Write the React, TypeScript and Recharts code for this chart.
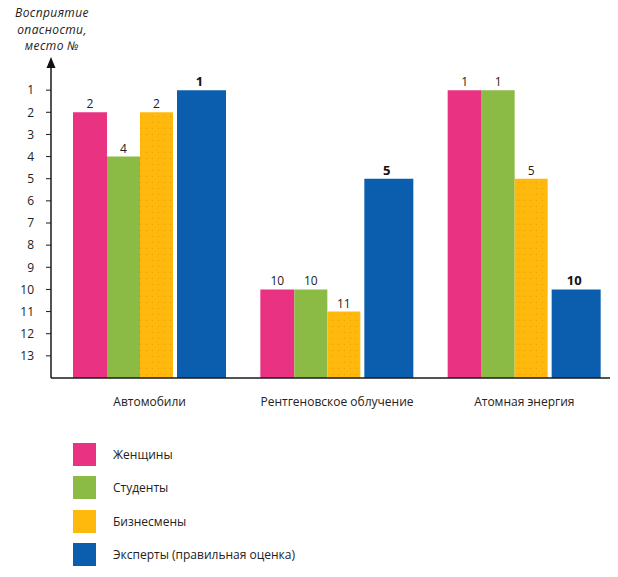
import { BarChart, Bar, XAxis, YAxis, LabelList, Legend, Rectangle } from 'recharts';

const MAX_RANK = 14;
const categories = ['Автомобили', 'Рентгеновское облучение', 'Атомная энергия'];
const women = [2, 10, 1];
const students = [4, 10, 1];
const businessmen = [2, 11, 5];
const experts = [1, 5, 10];
const rankTicks = [1, 2, 3, 4, 5, 6, 7, 8, 9, 10, 11, 12, 13];
const seriesNames = ['Женщины', 'Студенты', 'Бизнесмены', 'Эксперты (правильная оценка)'];
const colors = ['#E93281', '#8CBB45', '#FFB90C', '#0B5EAD'];

const data = categories.map((category, i) => ({
  category,
  women: women[i],
  students: students[i],
  businessmen: businessmen[i],
  experts: experts[i],
}));

const FONT = '"Open Sans", "Noto Sans", sans-serif';
const toBar = (rank: number) => MAX_RANK - rank;
const toRank = (v: any) => MAX_RANK - Number(v);

const renderLegend = () => (
  <div style={{ height: 139, fontFamily: FONT, fontSize: 12, color: '#222' }}>
    {seriesNames.map((name, i) => (
      <div key={name} style={{ display: 'flex', alignItems: 'center', height: 33.3 }}>
        <span style={{ width: 23, height: 23, background: colors[i], display: 'inline-block' }} />
        <span style={{ marginLeft: 17 }}>{name}</span>
      </div>
    ))}
  </div>
);

// blue bar sits a few px apart from the others
const ExpertBar = (props: any) => (
  <Rectangle {...props} x={props.x + 4} width={props.width - 4} />
);

export default function App() {
  return (
    <div style={{ margin: -8, width: 618, height: 577, background: '#fff' }}>
      <BarChart
        width={618}
        height={577}
        data={data}
        barGap={0}
        margin={{ top: 68, right: 0, bottom: 0, left: 0 }}>
        <defs>
          <pattern id='dots' width='6' height='6' patternUnits='userSpaceOnUse'>
            <rect width='6' height='6' fill='#FFB90C' />
            <rect x='2' y='2' width='1' height='1' fill='#EAA000' />
          </pattern>
        </defs>
        <XAxis
          dataKey='category'
          height={60}
          padding={{ left: 5, right: 0 }}
          tickLine={false}
          tickSize={0}
          tickMargin={19}
          axisLine={{ stroke: '#1a1a1a', strokeWidth: 1.5 }}
          tick={{ fontSize: 12, fill: '#222', fontFamily: FONT }}
        />
        <YAxis
          type='number'
          width={51}
          domain={[0, MAX_RANK]}
          ticks={rankTicks.map(toBar)}
          interval={0}
          tickFormatter={toRank}
          tickSize={5}
          tickMargin={12}
          axisLine={{ stroke: '#1a1a1a', strokeWidth: 1.5 }}
          tickLine={{ stroke: '#1a1a1a' }}
          tick={{ fontSize: 12, fill: '#222', fontFamily: FONT }}
        />
        <Legend verticalAlign='bottom' content={renderLegend} wrapperStyle={{ left: 73, width: 320 }} />
        <Bar
          name={seriesNames[0]}
          dataKey={(d: any) => toBar(d.women)}
          fill={colors[0]}
          barSize={34}
          isAnimationActive={false}>
          <LabelList position='top' offset={4} formatter={toRank} style={{ fontSize: 12, fill: '#222', fontFamily: FONT }} />
        </Bar>
        <Bar
          name={seriesNames[1]}
          dataKey={(d: any) => toBar(d.students)}
          fill={colors[1]}
          barSize={33}
          isAnimationActive={false}>
          <LabelList position='top' offset={4} formatter={toRank} style={{ fontSize: 12, fill: '#222', fontFamily: FONT }} />
        </Bar>
        <Bar
          name={seriesNames[2]}
          dataKey={(d: any) => toBar(d.businessmen)}
          fill='url(#dots)'
          barSize={33}
          isAnimationActive={false}>
          <LabelList position='top' offset={4} formatter={toRank} style={{ fontSize: 12, fill: '#222', fontFamily: FONT }} />
        </Bar>
        <Bar
          name={seriesNames[3]}
          dataKey={(d: any) => toBar(d.experts)}
          fill={colors[3]}
          barSize={53}
          shape={ExpertBar}
          isAnimationActive={false}>
          <LabelList position='top' offset={4} formatter={toRank} style={{ fontSize: 13, fontWeight: 700, fill: '#111', fontFamily: FONT }} />
        </Bar>
        <g>
          <polygon points='51,57 46.5,68 55.5,68' fill='#111' />
          <text
            x={52}
            textAnchor='middle'
            fontFamily={FONT}
            fontStyle='italic'
            fontSize={12}
            letterSpacing={0.4}
            fill='#222'>
            <tspan x={52} y={17}>Восприятие</tspan>
            <tspan x={52} y={33.5}>опасности,</tspan>
            <tspan x={52} y={50}>место №</tspan>
          </text>
        </g>
      </BarChart>
    </div>
  );
}
